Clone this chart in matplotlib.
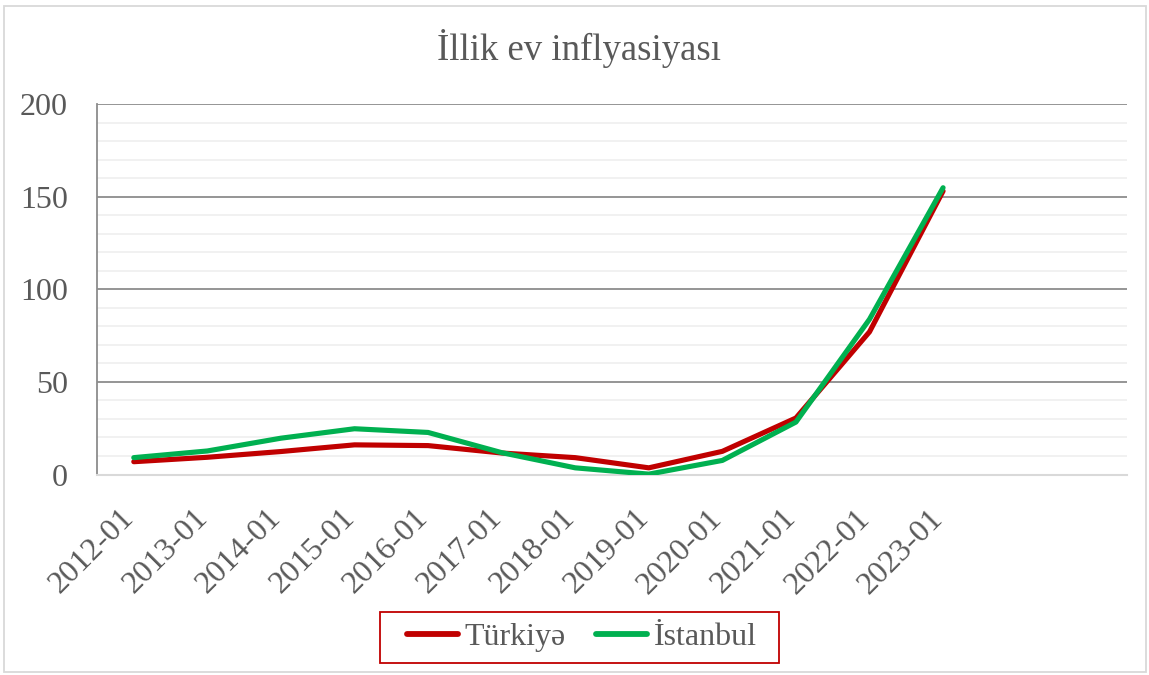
import matplotlib
matplotlib.use("Agg")
import matplotlib.pyplot as plt
import matplotlib.transforms as mtransforms
from matplotlib.patches import Rectangle

# data
categories = ["2012-01", "2013-01", "2014-01", "2015-01", "2016-01", "2017-01",
              "2018-01", "2019-01", "2020-01", "2021-01", "2022-01", "2023-01"]
turkiye = [6.9, 9.3, 12.4, 16.0, 15.6, 11.6, 9.1, 3.6, 12.5, 30.5, 77.0, 153.0]
istanbul = [9.1, 12.7, 19.6, 24.7, 22.7, 11.8, 3.6, 0.2, 7.6, 28.3, 83.8, 154.8]

plt.rcParams['font.family'] = ['Liberation Serif', 'DejaVu Serif']
grey = '#595959'

fig = plt.figure(figsize=(11.49, 6.75), dpi=100)
ax = fig.add_axes([97/1149, 1 - 474.5/675, (1127 - 97)/1149, (474.5 - 104)/675])

x = list(range(len(categories)))
ax.plot(x, turkiye, color='#C00000', lw=3.7, label='Türkiyə', solid_capstyle='round', zorder=3)
ax.plot(x, istanbul, color='#00B050', lw=3.7, label='İstanbul', solid_capstyle='round', zorder=4)

ax.set_xlim(-0.5, 13.5)
ax.set_ylim(0, 200)

# gridlines: light minor every 10, darker major every 50
for v in range(10, 200, 10):
    if v % 50:
        ax.axhline(v, color='#f0f0f0', lw=1.3, zorder=1)
for v in (50, 100, 150, 200):
    ax.axhline(v, color='#8c8c8c', lw=1.3, zorder=2)

for s in ('top', 'right'):
    ax.spines[s].set_visible(False)
ax.spines['left'].set_color('#8c8c8c')
ax.spines['left'].set_linewidth(1.3)
ax.spines['bottom'].set_color('#d9d9d9')
ax.spines['bottom'].set_linewidth(1.5)

ax.set_yticks([0, 50, 100, 150, 200])
ax.tick_params(axis='y', length=0, pad=21, labelsize=23, labelcolor=grey)
ax.set_xticks(x)
ax.set_xticklabels(categories, rotation=45, ha='right', fontsize=23, color=grey)
ax.tick_params(axis='x', length=0, pad=21)
offset = mtransforms.ScaledTranslation(6/100, 0, fig.dpi_scale_trans)
for lab in ax.get_xticklabels():
    lab.set_transform(lab.get_transform() + offset)

fig.text(0.504, 1 - 48/675, 'İllik ev inflyasiyası', ha='center', va='center',
         fontsize=26.5, color=grey)

leg = fig.legend(loc='center', bbox_to_anchor=(582/1149, 1 - 637.5/675), ncol=2,
                 fontsize=23, frameon=False, handlelength=1.6,
                 handletextpad=0.2, columnspacing=0.95)
for t in leg.get_texts():
    t.set_color(grey)
for h in leg.legend_handles:
    h.set_linewidth(4.2)

# legend box drawn separately (wider side padding than matplotlib's frame)
fig.patches.append(Rectangle((380/1149, 1 - 663/675), 399/1149, 51/675, transform=fig.transFigure,
                             fill=False, edgecolor='#C00000', lw=1.3))

# outer chart border
fig.patches.append(Rectangle((4/1149, 3/675), 1142/1149, 666/675, transform=fig.transFigure,
                             fill=False, edgecolor='#d9d9d9', lw=1.3))

fig.savefig('out.png', dpi=100)
